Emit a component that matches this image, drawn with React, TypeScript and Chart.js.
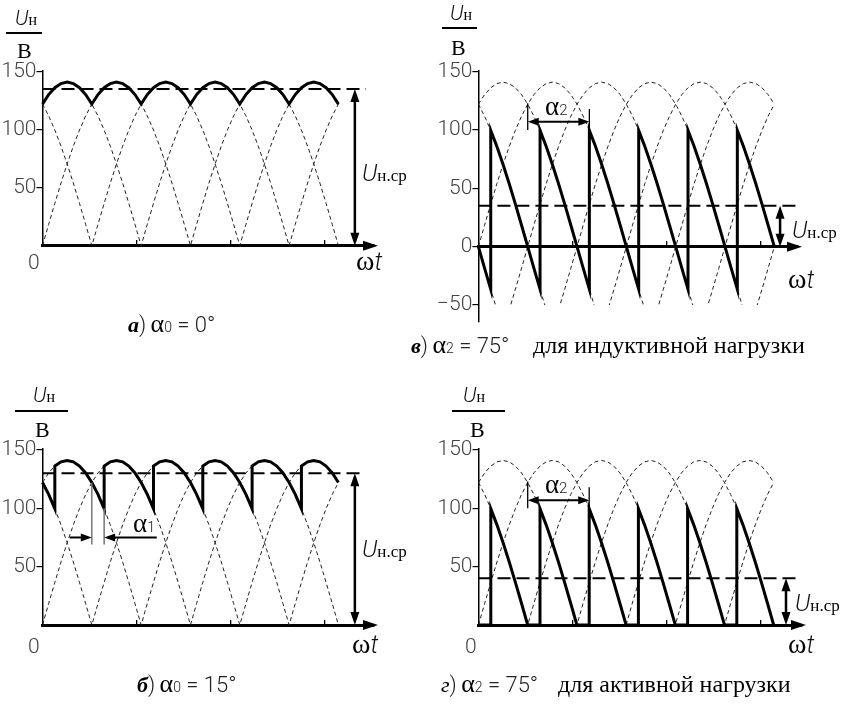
import React, { useEffect, useRef } from "react";
import { Chart, registerables } from "chart.js";

Chart.register(...registerables);

const PAGE_W = 843;
const PAGE_H = 710;

// ---------------- values ----------------
// one supply curve (V), sampled every 7.5° over one full period
const SAMPLE_STEP_DEG = 7.5;
const phaseWave = [
  0, 18.4, 36.5, 54, 70.5, 85.8, 99.7, 111.9, 122.1, 130.3, 136.2, 139.8,
  141, 139.8, 136.2, 130.3, 122.1, 111.9, 99.7, 85.8, 70.5, 54, 36.5, 18.4,
  0, -18.4, -36.5, -54, -70.5, -85.8, -99.7, -111.9, -122.1, -130.3, -136.2, -139.8,
  -141, -139.8, -136.2, -130.3, -122.1, -111.9, -99.7, -85.8, -70.5, -54, -36.5, -18.4,
];
const WAVE_PERIOD_DEG = 360;
// ωt (deg) where each of the six dashed curves crosses zero upward
const curveRiseDeg = [-60, 0, 60, 120, 180, 240];
// drawn range of ωt (deg)
const sweepDeg = [0, 360];

// bold load-voltage curves: [from deg, to deg, index of followed curve (-1 = zero)]
const boldA = [[0, 60, 0], [60, 120, 1], [120, 180, 2], [180, 240, 3], [240, 300, 4], [300, 360, 5]];
const boldB = [[0, 15, 5], [15, 75, 0], [75, 135, 1], [135, 195, 2], [195, 255, 3], [255, 315, 4], [315, 360, 5]];
const boldV = [[0, 15, 4], [15, 75, 5], [75, 135, 0], [135, 195, 1], [195, 255, 2], [255, 315, 3], [315, 360, 4]];
const boldG = [
  [0, 15, -1], [15, 60, 5], [60, 75, -1], [75, 120, 0], [120, 135, -1], [135, 180, 1],
  [180, 195, -1], [195, 240, 2], [240, 255, -1], [255, 300, 3], [300, 315, -1], [315, 360, 4],
];

// mean load voltage U_н.ср (V) for panels а, б, в, г
const meanVoltage = [135, 130, 35, 40];
const meanLineEndDeg = [393.5, 392, 387.6, 389.6];
const meanArrowDeg = [380, 380, 367, 375];

// axis ticks
const yTicksPositive = [50, 100, 150];
const yTickLabelsPositive = ["50", "100", "150"];
const yTicksFull = [-50, 0, 50, 100, 150];
const yTickLabelsFull = ["\u221250", "0", "50", "100", "150"];
const xTickMarksDeg = [114.6, 229.2, 343.8];
const dashedFloorV = -50;

// dimension marks
const alpha2MarksDeg = [60, 135];
const alpha1MarksDeg = [60, 75];

// ---------------- helpers ----------------
function curveValue(c: number, deg: number): number {
  const rel = (((deg - curveRiseDeg[c]) % WAVE_PERIOD_DEG) + WAVE_PERIOD_DEG) % WAVE_PERIOD_DEG;
  return phaseWave[Math.round(rel / SAMPLE_STEP_DEG) % phaseWave.length];
}
function curvePoints(c: number) {
  const pts: { x: number; y: number }[] = [];
  for (let d = sweepDeg[0]; d <= sweepDeg[1] + 1e-9; d += SAMPLE_STEP_DEG) pts.push({ x: d, y: curveValue(c, d) });
  return pts;
}
function boldPoints(segs: number[][]) {
  const pts: { x: number; y: number }[] = [];
  for (const [a, b, c] of segs) {
    for (let d = a; d <= b + 1e-9; d += SAMPLE_STEP_DEG) pts.push({ x: d, y: c < 0 ? 0 : curveValue(c, d) });
  }
  return pts;
}

const SANS = 'Roboto, sans-serif';
const fLight = (s: number) => `300 ${s}px Roboto`;
const fLightIt = (s: number) => `italic 300 ${s}px Roboto`;
const fSerif = (s: number) => `${s}px "Liberation Serif", serif`;
const fSerifBI = (s: number) => `bold italic ${s}px "Liberation Serif", serif`;
const fSerifI = (s: number) => `italic ${s}px "Liberation Serif", serif`;

type Run = { t: string; f: string; c?: string; dy?: number; at?: number };
function drawRuns(ctx: CanvasRenderingContext2D, x: number, y: number, runs: Run[]) {
  let cx = x;
  ctx.textAlign = "left";
  ctx.textBaseline = "alphabetic";
  for (const r of runs) {
    if (r.at !== undefined) cx = r.at;
    ctx.font = r.f;
    ctx.fillStyle = r.c || "#000";
    ctx.fillText(r.t, cx, y + (r.dy || 0));
    cx += ctx.measureText(r.t).width;
  }
}
function arrowHead(ctx: CanvasRenderingContext2D, tx: number, ty: number, dx: number, dy: number, len: number, hw: number) {
  const px = -dy, py = dx;
  ctx.beginPath();
  ctx.moveTo(tx, ty);
  ctx.lineTo(tx - dx * len + px * hw, ty - dy * len + py * hw);
  ctx.lineTo(tx - dx * len - px * hw, ty - dy * len - py * hw);
  ctx.closePath();
  ctx.fillStyle = "#000";
  ctx.fill();
}
function line(ctx: CanvasRenderingContext2D, x1: number, y1: number, x2: number, y2: number, w: number, color = "#000") {
  ctx.beginPath();
  ctx.moveTo(x1, y1);
  ctx.lineTo(x2, y2);
  ctx.lineWidth = w;
  ctx.strokeStyle = color;
  ctx.setLineDash([]);
  ctx.stroke();
}

// ---------------- layout of the four panels (pixels) ----------------
type Panel = {
  key: string;
  idx: number;
  ox: number; oy: number; pxDeg: number; pxV: number;
  yMin: number; yMax: number; axisTip: number; yW: number;
  bold: number[][];
  yTicks: number[]; yLabels: string[];
  uLabel: { x: number; y: number; l1: number; l2: number; ly: number; bx: number; by: number };
  meanLabel: [number, number];
  omega: [number, number];
  zero?: [number, number];
  caption: { x: number; y: number; runs: Run[] };
  alpha?: "1" | "2";
};

const capRuns = (letter: string, letterFont: string, sub: string, rest: string, words?: string, wordsX?: number): Run[] => {
  const r: Run[] = [
    { t: letter, f: letterFont },
    { t: ")", f: fLight(22), c: "#222" },
    { t: " ", f: fLight(18) },
    { t: "\u03b1", f: fSerif(26) },
    { t: sub, f: fLight(14), c: "#222" },
    { t: rest, f: fLight(22), c: "#222" },
  ];
  if (words) r.push({ t: words, f: fSerif(24), at: wordsX });
  return r;
};

const panels: Panel[] = [
  {
    key: "a", idx: 0, ox: 42.5, oy: 245.7, pxDeg: 0.822, pxV: 1.16, yMin: 0, yMax: 151, axisTip: 378, yW: 42.5,
    bold: boldA, yTicks: yTicksPositive, yLabels: yTickLabelsPositive,
    uLabel: { x: 15, y: 25, l1: 6, l2: 42, ly: 33, bx: 17, by: 58 },
    meanLabel: [362, 181], omega: [356, 270], zero: [28, 269],
    caption: { x: 128, y: 332, runs: capRuns("\u0430", fSerifBI(22), "0", " = 0\u00b0") },
  },
  {
    key: "b", idx: 1, ox: 42.5, oy: 625, pxDeg: 0.822, pxV: 1.167, yMin: 0, yMax: 151, axisTip: 378, yW: 42.5,
    bold: boldB, yTicks: yTicksPositive, yLabels: yTickLabelsPositive,
    uLabel: { x: 33, y: 402, l1: 15, l2: 68, ly: 411, bx: 35, by: 437 },
    meanLabel: [362, 557], omega: [352, 653], zero: [28, 653],
    caption: { x: 137, y: 692, runs: capRuns("\u0431", fSerifBI(22), "0", " = 15\u00b0") },
    alpha: "1",
  },
  {
    key: "v", idx: 2, ox: 478.4, oy: 246.7, pxDeg: 0.822, pxV: 1.167, yMin: -64, yMax: 151, axisTip: 802, yW: 60,
    bold: boldV, yTicks: yTicksFull, yLabels: yTickLabelsFull,
    uLabel: { x: 450, y: 20, l1: 442, l2: 477, ly: 28, bx: 451, by: 55 },
    meanLabel: [792, 238], omega: [788, 288],
    caption: { x: 411, y: 353, runs: capRuns("\u0432", fSerifBI(22), "2", " = 75\u00b0", "\u0434\u043b\u044f \u0438\u043d\u0434\u0443\u043a\u0442\u0438\u0432\u043d\u043e\u0439 \u043d\u0430\u0433\u0440\u0443\u0437\u043a\u0438", 533) },
    alpha: "2",
  },
  {
    key: "g", idx: 3, ox: 478.5, oy: 625, pxDeg: 0.82, pxV: 1.167, yMin: 0, yMax: 151, axisTip: 806, yW: 60,
    bold: boldG, yTicks: yTicksPositive, yLabels: yTickLabelsPositive,
    uLabel: { x: 463, y: 402, l1: 452, l2: 505, ly: 411, bx: 470, by: 437 },
    meanLabel: [795, 611], omega: [788, 653], zero: [465, 653],
    caption: { x: 441, y: 692, runs: capRuns("\u0433", fSerifI(22), "2", " = 75\u00b0", "\u0434\u043b\u044f \u0430\u043a\u0442\u0438\u0432\u043d\u043e\u0439 \u043d\u0430\u0433\u0440\u0443\u0437\u043a\u0438", 558) },
    alpha: "2",
  },
];

function makeConfig(p: Panel): any {
  const xMax = (p.axisTip - 4 - p.ox) / p.pxDeg;
  const top = p.oy - p.yMax * p.pxV;
  const bottom = p.oy - p.yMin * p.pxV;
  const archClipBottom = -((dashedFloorV - p.yMin) * p.pxV);
  const mean = meanVoltage[p.idx];

  const datasets: any[] = [];
  for (let c = 0; c < curveRiseDeg.length; c++) {
    datasets.push({
      data: curvePoints(c),
      borderColor: "#222",
      borderWidth: 1,
      borderDash: [4, 3],
      pointRadius: 0,
      tension: 0,
      order: 3,
      clip: { left: 0, top: 0, right: 0, bottom: p.yMin < dashedFloorV ? Math.min(archClipBottom, 0) : 0 },
    });
  }
  datasets.push({
    data: [{ x: 0, y: mean }, { x: meanLineEndDeg[p.idx], y: mean }],
    borderColor: "#000",
    borderWidth: 2,
    borderDash: [13, 6],
    pointRadius: 0,
    order: 2,
    clip: false,
  });
  datasets.push({
    data: boldPoints(p.bold),
    borderColor: "#000",
    borderWidth: 3,
    borderJoinStyle: "miter",
    pointRadius: 0,
    tension: 0,
    order: 1,
    clip: 3,
  });

  const plugin = {
    id: "annot" + p.key,
    afterDraw(chart: any) {
      const ctx: CanvasRenderingContext2D = chart.ctx;
      const xs = chart.scales.x, ys = chart.scales.y;
      const X = (v: number) => xs.getPixelForValue(v);
      const Y = (v: number) => ys.getPixelForValue(v);
      ctx.save();
      // x-axis arrow
      arrowHead(ctx, p.axisTip, Y(0), 1, 0, 15, 5);
      // y label
      const u = p.uLabel;
      drawRuns(ctx, u.x, u.y, [
        { t: "U", f: fLightIt(21), c: "#111" },
        { t: "\u043d", f: fSerif(16) },
      ]);
      line(ctx, u.l1, u.ly, u.l2, u.ly, 2);
      drawRuns(ctx, u.bx, u.by, [{ t: "\u0412", f: fSerif(22) }]);
      // ωt
      drawRuns(ctx, p.omega[0], p.omega[1], [
        { t: "\u03c9", f: fSerif(28) },
        { t: "t", f: fLightIt(25), c: "#111" },
      ]);
      // zero label
      if (p.zero) drawRuns(ctx, p.zero[0], p.zero[1], [{ t: "0", f: fLight(21), c: "#444" }]);
      // mean arrow
      const mx = X(meanArrowDeg[p.idx]);
      const my1 = Y(meanVoltage[p.idx]);
      const my2 = Y(0);
      line(ctx, mx, my1 + 8, mx, my2 - 8, 2.5);
      arrowHead(ctx, mx, my1, 0, -1, 13, 4.5);
      arrowHead(ctx, mx, my2, 0, 1, 13, 4.5);
      drawRuns(ctx, p.meanLabel[0], p.meanLabel[1], [
        { t: "U", f: fLightIt(24), c: "#111" },
        { t: "\u043d.\u0441\u0440", f: fSerif(17) },
      ]);
      // α dimensions
      if (p.alpha === "2") {
        const xa = X(alpha2MarksDeg[0]), xb = X(alpha2MarksDeg[1]);
        line(ctx, xa, Y(123), xa, Y(100), 1.3);
        line(ctx, xb, Y(118), xb, Y(101), 1.3);
        const ay = Y(107);
        line(ctx, xa + 6, ay, xb - 6, ay, 2);
        arrowHead(ctx, xa, ay, -1, 0, 11, 4);
        arrowHead(ctx, xb, ay, 1, 0, 11, 4);
        drawRuns(ctx, X(81), Y(113), [
          { t: "\u03b1", f: fSerif(27) },
          { t: "2", f: fLight(15), c: "#222" },
        ]);
      }
      if (p.alpha === "1") {
        const xa = X(alpha1MarksDeg[0]), xb = X(alpha1MarksDeg[1]);
        line(ctx, xa, Y(122), xa, Y(69), 1.5, "#777");
        line(ctx, xb, Y(100), xb, Y(69), 1.5, "#777");
        const ay = Y(75);
        line(ctx, X(33), ay, xa - 6, ay, 2);
        arrowHead(ctx, xa, ay, 1, 0, 11, 4);
        line(ctx, X(139), ay, xb + 6, ay, 2);
        arrowHead(ctx, xb, ay, -1, 0, 11, 4);
        drawRuns(ctx, X(110), Y(80), [
          { t: "\u03b1", f: fSerif(27) },
          { t: "1", f: fLight(15), c: "#222" },
        ]);
      }
      // caption
      drawRuns(ctx, p.caption.x, p.caption.y, p.caption.runs);
      ctx.restore();
    },
  };

  return {
    type: "line",
    data: { datasets },
    plugins: [plugin],
    options: {
      animation: false,
      responsive: false,
      devicePixelRatio: 1,
      events: [],
      layout: {
        padding: {
          left: p.ox - p.yW,
          top,
          right: PAGE_W - (p.axisTip - 4),
          bottom: PAGE_H - bottom,
        },
      },
      plugins: { legend: { display: false }, tooltip: { enabled: false } },
      scales: {
        x: {
          type: "linear",
          min: 0,
          max: xMax,
          position: { y: 0 },
          grid: { display: true, drawOnChartArea: false, drawTicks: true, tickLength: -7, color: "#000", lineWidth: 1.3 },
          border: { display: true, color: "#000", width: 3 },
          ticks: { display: false },
          afterBuildTicks: (s: any) => {
            s.ticks = xTickMarksDeg.map((v) => ({ value: v }));
          },
          afterFit: (s: any) => {
            s.height = 0;
          },
        },
        y: {
          type: "linear",
          min: p.yMin,
          max: p.yMax,
          position: "left",
          grid: { display: true, drawOnChartArea: false, drawTicks: true, tickLength: 6, color: "#000", lineWidth: 1.2 },
          border: { display: true, color: "#000", width: 1.5 },
          ticks: {
            color: "#444",
            font: { family: SANS, size: 21, weight: "300" },
            padding: 0,
            callback: (_v: any, i: number) => p.yLabels[i],
          },
          afterBuildTicks: (s: any) => {
            s.ticks = p.yTicks.map((v) => ({ value: v }));
          },
          afterFit: (s: any) => {
            s.width = p.yW;
          },
        },
      },
    },
  };
}

function PanelChart({ p }: { p: Panel }) {
  const ref = useRef<HTMLCanvasElement>(null);
  useEffect(() => {
    const chart = new Chart(ref.current as HTMLCanvasElement, makeConfig(p));
    return () => chart.destroy();
  }, [p]);
  return (
    <canvas
      ref={ref}
      width={PAGE_W}
      height={PAGE_H}
      style={{ position: "absolute", left: 0, top: 0, width: PAGE_W, height: PAGE_H }}
    />
  );
}

export default function App() {
  return (
    <div style={{ position: "absolute", left: 0, top: 0, width: PAGE_W, height: PAGE_H, background: "#fff" }}>
      {panels.map((p) => (
        <PanelChart key={p.key} p={p} />
      ))}
    </div>
  );
}
